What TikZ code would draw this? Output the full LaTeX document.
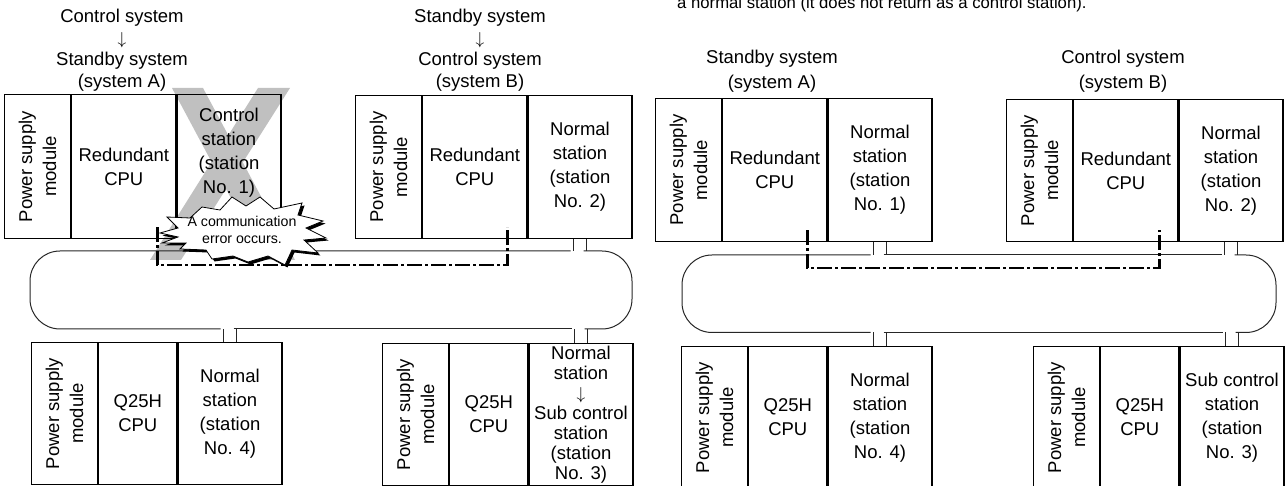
\documentclass[tikz,border=0pt]{standalone}
\usepackage{fontspec}
\setmainfont{Liberation Sans}
\definecolor{xgray}{RGB}{192,192,192}
\newcommand{\rack}[7]{%
\node[col,rotate=90,minimum width=#4pt,minimum height=66pt,anchor=north east] (#1P) at (#2,#3){Power supply\\module};
\node[col,minimum width=#5pt,minimum height=#4pt,anchor=north west] (#1C) at (#1P.south east){#6};
\node[col,minimum width=104pt,minimum height=#4pt,anchor=north west] (#1S) at (#1C.north east){#7};}
\newcommand{\burst}{(160,253)--(178,258)--(167,269)--(190,268)--(202,279)--(220,276)--(232,289)--(246,280)--(260,289)--(274,277)--(302,283)--(298,271)--(323,265)--(306,258)--(326,248)--(304,246)--(318,233)--(292,236)--(285,221)--(268,230)--(248,224)--(233,230)--(212,227)--(206,236)--(180,237)--(186,243)--(162,243)--(178,249)--cycle}

\begin{document}
\begin{tikzpicture}[x=1pt,y=1pt,font=\fontsize{18.5}{24}\selectfont,
  col/.style={draw,line width=1.2pt,align=center,inner sep=2pt},
  ring/.style={line width=1pt,black!85},
  link/.style={line width=2.2pt,dash pattern=on 15pt off 3pt on 3pt off 3pt}]
\useasboundingbox (0,0) rectangle (1285,486);
\fill[xgray] (172,398)--(203,398)--(295,226)--(264,226)--cycle;\fill[xgray] (258,398)--(290,398)--(181,226)--(150,226)--cycle;
\rack{lA}{4}{392}{144}{104}{Redundant\\CPU}{}
\rack{lB}{355}{391}{143}{104}{Redundant\\CPU}{Normal\\station\\(station\\No. 2)}
\rack{l4}{31}{144}{142}{78}{Q25H\\CPU}{Normal\\station\\(station\\No. 4)}
\rack{l3}{382}{143}{142}{78}{Q25H\\CPU}{Normal\\[-4pt]station\\[-4pt]$\downarrow$\\[-4pt]Sub control\\[-4pt]station\\[-4pt](station\\[-4pt]No. 3)}
\rack{rA}{655}{388}{143}{104}{Redundant\\CPU}{Normal\\station\\(station\\No. 1)}
\rack{rB}{1006}{387}{142}{104}{Redundant\\CPU}{Normal\\station\\(station\\No. 2)}
\rack{r4}{681}{140}{142}{78}{Q25H\\CPU}{Normal\\station\\(station\\No. 4)}
\rack{r3}{1033}{140}{142}{78}{Q25H\\CPU}{Sub control\\station\\(station\\No. 3)}
\node[align=center] (ctrl) at ([yshift=14pt]lAS.center){Control\\station\\(station\\No. 1)};
\node[align=center] (hlA) at (122,436){Control system\\[-2.5pt]$\downarrow$\\[-2.5pt]Standby system\\[-2.5pt](system A)};
\node[align=center] (hlB) at (480,436){Standby system\\[-2.5pt]$\downarrow$\\[-2.5pt]Control system\\[-2.5pt](system B)};
\node[align=center] (hrA) at (772,414.5){Standby system\\[1pt](system A)};
\node[align=center] (hrB) at (1123,414.5){Control system\\[1pt](system B)};
\node[anchor=base west,inner sep=0pt,font=\fontsize{16.7}{20}\selectfont] (note) at (677,477){a normal station (it does not return as a control station).};
\coordinate (lT) at (0,235);\coordinate (lB) at (0,157);\coordinate (rT) at (0,231);\coordinate (rB) at (0,153.5);
\draw[ring,rounded corners=30pt] (570.5,235)--(30,235)--(30,157)--(220.5,157);\draw[ring] (233.5,157)--(571.5,157);
\draw[ring,rounded corners=30pt] (584.5,157)--(632,157)--(632,235)--(583.5,235);
\draw[ring,rounded corners=30pt] (870.5,231)--(682,231)--(682,153.5)--(870.5,153.5);
\draw[ring] (883.5,231)--(1221.5,231);\draw[ring] (883.5,153.5)--(1222.5,153.5);
\draw[ring,rounded corners=30pt] (1235.5,153.5)--(1276,153.5)--(1276,231)--(1234.5,231);
\foreach \s/\r in {lBS.south/lT,l4S.north/lB,l3S.north/lB,rAS.south/rT,rBS.south/rT,r4S.north/rB,r3S.north/rB}\foreach \d in {-6.5,6.5}\draw[ring] ([xshift=\d pt]\s)--([xshift=\d pt]\s|-\r);
\draw[link] ([shift={(-19,12)}]lAC.south east)--++(0,-38)-|([shift={(-20,12)}]lBC.south east);
\draw[link] ([shift={(-20,12)}]rAC.south east)--++(0,-38)-|([shift={(-19,12)}]rBC.south east);
\fill[black] [shift={(2.5,-2.5)}] \burst;\filldraw[fill=white,line width=.8pt] \burst;
\node[align=center,font=\fontsize{14.2}{17}\selectfont,inner sep=0pt] (err) at (242,256){A communication\\error occurs.};
\end{tikzpicture}
\end{document}
